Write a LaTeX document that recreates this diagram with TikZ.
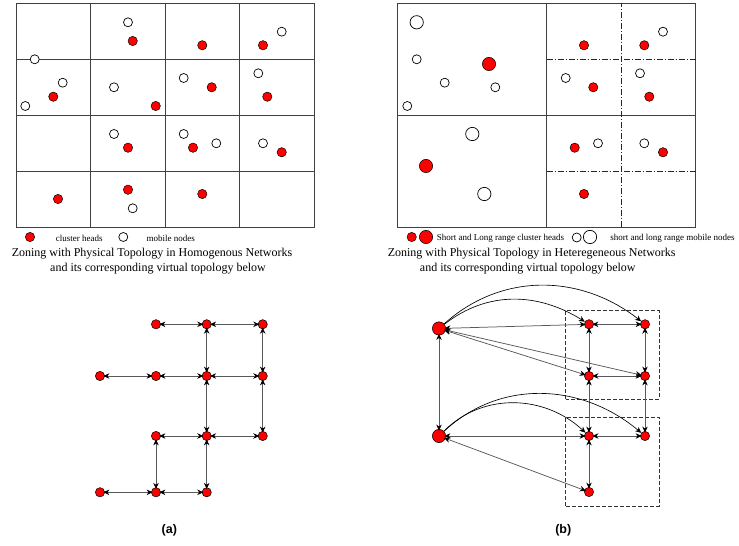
\documentclass[tikz,border=0pt]{standalone}
\usepackage{fontspec}
\setmainfont{Liberation Serif}
\newfontfamily\labelfont{Liberation Sans}
\usetikzlibrary{arrows.meta}

\begin{document}
\begin{tikzpicture}[x=1pt,y=1pt,
    head/.style={circle,inner sep=0,minimum size=9.3pt,draw=black,line width=0.5pt,fill=red},
    bighead/.style={head,minimum size=13.3pt},
    mobile/.style={circle,inner sep=0,minimum size=9pt,draw=black,line width=0.7pt,fill=white},
    bigmobile/.style={mobile,minimum size=13.3pt},
    zone/.style={draw=black!75,line width=0.8pt},
    subzone/.style={draw=black!85,line width=0.6pt,dash pattern=on 6pt off 2pt on 1pt off 2pt},
    zonebox/.style={draw=black!80,line width=0.6pt,dash pattern=on 3.5pt off 2.5pt},
    link/.style={{Stealth[length=6pt,width=5.5pt,black]}-{Stealth[length=6pt,width=5.5pt,black]},
      draw=black!65,line width=0.75pt,shorten <=-1.5pt,shorten >=-1.5pt},
    curve/.style={-{Stealth[length=6pt,width=5.5pt]},draw=black,line width=0.65pt},
    legend/.style={font=\fontsize{9}{10}\selectfont,inner sep=0},
    caption/.style={font=\fontsize{12}{14}\selectfont,inner sep=0}]

  \useasboundingbox (0,0) rectangle (739,546);

  % homogenous zones
  \draw[zone] (16,319) rectangle (314,543);
  \foreach \x in {90.5,165,239.5}
    \draw[zone] (\x,319) -- (\x,543);
  \foreach \y in {375,431,487}
    \draw[zone] (16,\y) -- (314,\y);

  \foreach \x/\y [count=\i] in {132.7/505,202.3/500.7,263/500.7,53.3/449.3,155.7/440,
      211.7/458.7,267.3/449.3,128/398.3,193/398.3,281.7/393.7,58/347,128/356.3,202.3/352}
    \node[head] (hA\i) at (\x,\y) {};
  \foreach \x/\y [count=\i] in {128/523.7,281.7/514.3,34.7/486.7,62.7/463.3,25.3/440,
      114/458.7,183.7/468,258.3/472.7,114/412,183.7/412,216.3/402.7,263/402.7,132.7/337.7}
    \node[mobile] (mA\i) at (\x,\y) {};

  \node[head] (keyhA) at (30,309) {};
  \node[legend] (keytA) at (79.3,308) {cluster heads};
  \node[mobile] (keymA) at (123.3,309) {};
  \node[legend] (keyuA) at (170.7,308) {mobile nodes};

  \node[caption] (capA1) at (152,292.2) {Zoning with Physical Topology in Homogenous Networks};
  \node[caption] (capA2) at (158,277.8) {and its corresponding virtual topology below};

  % heterogeneous zones
  \draw[zone] (397.7,319) rectangle (695.7,543);
  \draw[zone] (546.7,319) -- (546.7,543);
  \draw[zone] (397.7,431) -- (695.7,431);
  \draw[subzone] (621.2,319) -- (621.2,543);
  \draw[subzone] (546.7,487) -- (695.7,487);
  \draw[subzone] (546.7,375) -- (695.7,375);

  \foreach \x/\y [count=\i] in {416.7/523.7,472.3/412,484.3/352}
    \node[bigmobile] (MB\i) at (\x,\y) {};
  \foreach \x/\y [count=\i] in {416.7/486.7,444.7/463.3,495.3/458.7,407.3/440,663/514.3,
      565.7/468,640/472.7,598/402.7,644.3/402.7}
    \node[mobile] (mB\i) at (\x,\y) {};
  \foreach \x/\y [count=\i] in {489/482,426/380}
    \node[bighead] (HB\i) at (\x,\y) {};
  \foreach \x/\y [count=\i] in {584/500.7,644.3/500.7,593.3/458.7,649.3/449.3,574.7/398.3,
      663/393.7,584/352}
    \node[head] (hB\i) at (\x,\y) {};

  \node[head] (keyhB) at (411.7,309) {};
  \node[bighead] (keyHB) at (426,309) {};
  \node[legend] (keytB) at (500.5,308) {Short and Long range cluster heads};
  \node[mobile] (keymB) at (576.7,308.5) {};
  \node[bigmobile] (keyMB) at (590,309) {};
  \node[legend] (keyuB) at (672.5,308) {short and long range mobile nodes};

  \node[caption] (capB1) at (531.7,292.2) {Zoning with Physical Topology in Heteregeneous Networks};
  \node[caption] (capB2) at (527.8,277.8) {and its corresponding virtual topology below};

  % virtual topology (a)
  \node[head] (r1c2) at (156,221.7) {};
  \node[head] (r1c3) at (206.7,221.7) {};
  \node[head] (r1c4) at (262.7,221.7) {};
  \node[head] (r2c1) at (100,170) {};
  \node[head] (r2c2) at (156,170) {};
  \node[head] (r2c3) at (206.7,170) {};
  \node[head] (r2c4) at (262.7,170) {};
  \node[head] (r3c2) at (156,110) {};
  \node[head] (r3c3) at (206.7,110) {};
  \node[head] (r3c4) at (262.7,110) {};
  \node[head] (r4c1) at (100,53.7) {};
  \node[head] (r4c2) at (156,53.7) {};
  \node[head] (r4c3) at (206.7,53.7) {};

  \foreach \s/\t in {r1c2/r1c3,r1c3/r1c4,r1c3/r2c3,r1c4/r2c4,r2c1/r2c2,r2c2/r2c3,
      r2c3/r2c4,r2c3/r3c3,r2c4/r3c4,r3c2/r3c3,r3c3/r3c4,r3c2/r4c2,r3c3/r4c3,r4c1/r4c2,r4c2/r4c3}
    \draw[link] (\s) -- (\t);

  % virtual topology (b)
  \draw[zonebox] (565.7,147) rectangle (659,235.3);
  \draw[zonebox] (565.7,40) rectangle (659,128.7);

  \node[bighead] (L1) at (439,217.5) {};
  \node[bighead] (L2) at (439,110) {};
  \node[head] (na) at (589,221.7) {};
  \node[head] (nb) at (645,221.7) {};
  \node[head] (nc) at (589,170) {};
  \node[head] (nd) at (645,170) {};
  \node[head] (ne) at (589,110) {};
  \node[head] (nf) at (645,110) {};
  \node[head] (ng) at (589,54) {};

  \foreach \s/\t in {L1/na,na/nb,na/nc,nb/nd,nc/nd,nc/ne,nd/nf,ne/nf,ne/ng,
      L1/L2,L2/ne,L1/nc,L1/nd,L2/ng}
    \draw[link] (\s) -- (\t);

  \draw[curve] (L1) to[out=38,in=148] (na);
  \draw[curve] (L1) to[out=42,in=142] (nb);
  \draw[curve] (L2) to[out=45,in=137] (ne);
  \draw[curve] (L2) to[out=43,in=140] (nf);

  \node[font=\labelfont\bfseries\fontsize{12.5}{14}\selectfont,inner sep=0] (capa) at (169.3,15.3) {(a)};
  \node[font=\labelfont\bfseries\fontsize{12.5}{14}\selectfont,inner sep=0] (capb) at (563.3,15.3) {(b)};
\end{tikzpicture}
\end{document}
